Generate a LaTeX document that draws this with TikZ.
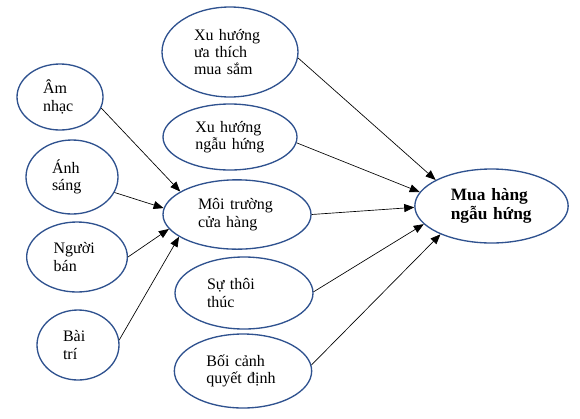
\documentclass[tikz,border=0pt]{standalone}
\usepackage{fontspec}
\setmainfont{Liberation Serif}
\usetikzlibrary{shapes.geometric,arrows.meta}
\definecolor{ringblue}{HTML}{2F528F}
\begin{document}
\begin{tikzpicture}[x=0.75pt,y=-0.75pt,
    bubble/.style={ellipse, draw=ringblue, line width=1pt, inner sep=0pt, align=left, font=\fontsize{12}{13}\selectfont},
    link/.style={-{Triangle[length=7.5pt,width=6pt]}, line width=0.5pt}]
    \useasboundingbox (0,0) rectangle (580,418);
    \node [bubble, minimum width=102pt, minimum height=67.5pt, text width=54pt] (xt) at (230,52) {Xu hướng\\ưa thích\\mua sắm};
    \node [bubble, minimum width=100.5pt, minimum height=49.5pt, text width=52pt] (xn) at (230,137) {Xu hướng\\ngẫu hứng};
    \node [bubble, minimum width=111pt, minimum height=52pt, text width=58.5pt] (mt) at (237,214.5) {Môi trường\\cửa hàng};
    \node [bubble, minimum width=103.5pt, minimum height=54pt, text width=55.5pt] (st) at (244,293) {Sự thôi\\thúc};
    \node [bubble, minimum width=103pt, minimum height=55.5pt, text width=55pt] (bc) at (243,371) {Bối cảnh\\quyết định};
    \node [bubble, minimum width=64.5pt, minimum height=49.5pt, text width=25.5pt] (am) at (60,97) {Âm\\nhạc};
    \node [bubble, minimum width=69pt, minimum height=55.5pt, text width=30pt] (as) at (72,177) {Ánh\\sáng};
    \node [bubble, minimum width=75.5pt, minimum height=52.5pt, text width=35pt] (nb) at (77,257) {Người\\bán};
    \node [bubble, minimum width=61.5pt, minimum height=52.5pt, text width=22.5pt] (bt) at (78,345) {Bài\\trí};
    \node [bubble, minimum width=115pt, minimum height=55.5pt, text width=61pt, font=\fontsize{13}{14.5}\selectfont\bfseries] (mh) at (491.5,206) {Mua hàng\\ngẫu hứng};
    \draw [link] (am.-15) -- (mt.158);
    \draw [link] (as.-20) -- (mt.175);
    \draw [link] (nb.0) -- (mt.-168);
    \draw [link] (bt.7) -- (mt.-159);
    \draw [link] (xt.-5) -- (mh.155);
    \draw [link] (xn.-5) -- (mh.169);
    \draw [link] (mt.0) -- (mh.181);
    \draw [link] (st.1) -- (mh.-165);
    \draw [link] (bc.5) -- (mh.-151);
\end{tikzpicture}
\end{document}
